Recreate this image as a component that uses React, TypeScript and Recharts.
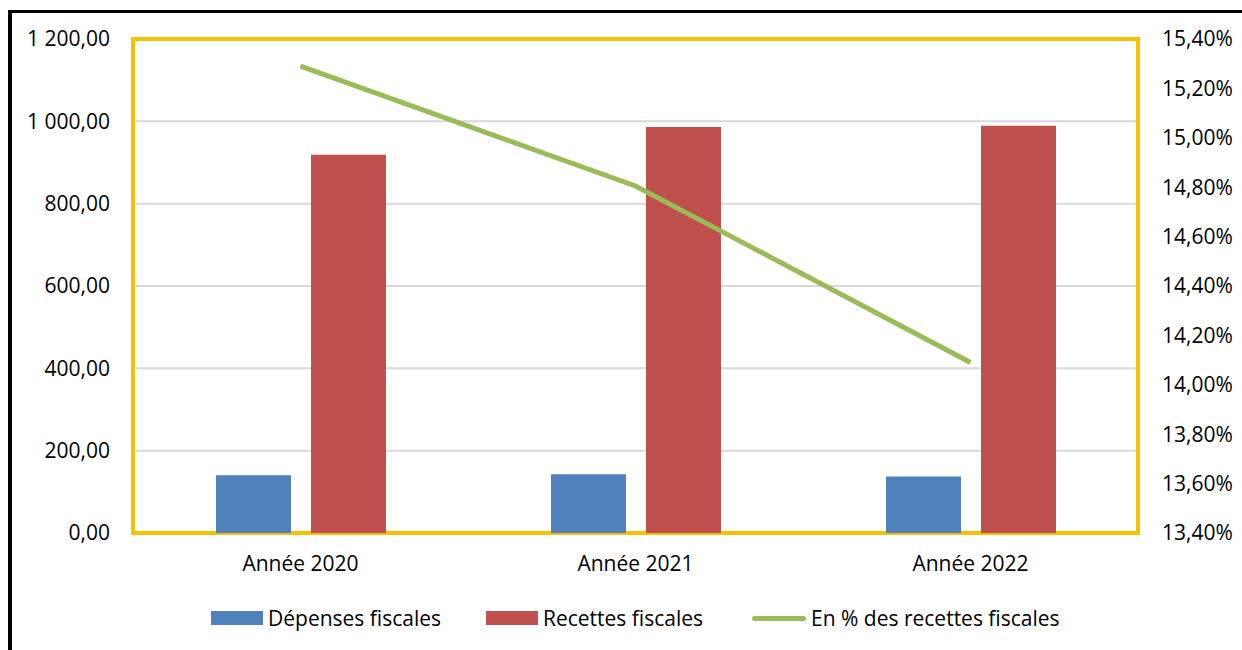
import {
  ComposedChart,
  Bar,
  Line,
  XAxis,
  YAxis,
  CartesianGrid,
  Legend,
  ReferenceArea,
} from "recharts";

const years = ["Année 2020", "Année 2021", "Année 2022"];
const depenses = [140, 143, 137];
const recettes = [919, 986, 989];
const pourcent = [15.29, 14.805, 14.09];

const leftTicks = [0, 200, 400, 600, 800, 1000, 1200];
const rightTicks = [13.4, 13.6, 13.8, 14.0, 14.2, 14.4, 14.6, 14.8, 15.0, 15.2, 15.4];

const data = years.map((name, i) => ({
  name,
  depenses: depenses[i],
  recettes: recettes[i],
  pourcent: pourcent[i],
}));

const font = "'Open Sans', sans-serif";
const fs = 21;

function fmtLeft(v: number) {
  const [int, dec] = v.toFixed(2).split(".");
  return int.replace(/\B(?=(\d{3})+(?!\d))/g, " ") + "," + dec;
}

function fmtRight(v: number) {
  return v.toFixed(2).replace(".", ",") + "%";
}

// legend items, left edge of each swatch
const legendItems = [
  { label: "Dépenses fiscales", color: "#4F81BD", left: 211, kind: "bar" },
  { label: "Recettes fiscales", color: "#C0504D", left: 486, kind: "bar" },
  { label: "En % des recettes fiscales", color: "#9BBB59", left: 752, kind: "line" },
];

function ChartLegend() {
  return (
    <div style={{ position: "relative", width: 1242, height: 30 }}>
      {legendItems.map((it) => (
        <div
          key={it.label}
          style={{
            position: "absolute",
            left: it.left,
            top: 0,
            height: 30,
            display: "flex",
            alignItems: "center",
          }}
        >
          {it.kind === "bar" ? (
            <div style={{ width: 52, height: 14, background: it.color }} />
          ) : (
            <div style={{ width: 54, height: 5, borderRadius: 3, background: it.color }} />
          )}
          <span
            style={{
              fontFamily: font,
              fontSize: fs,
              color: "#000",
              marginLeft: 5,
              whiteSpace: "nowrap",
            }}
          >
            {it.label}
          </span>
        </div>
      ))}
    </div>
  );
}

export default function App() {
  return (
    <div
      style={{
        position: "fixed",
        left: 0,
        top: 0,
        width: 1242,
        height: 650,
        background: "#fff",
        overflow: "hidden",
      }}
    >
      <div
        style={{
          position: "absolute",
          left: 8,
          top: 10,
          width: 1250,
          height: 700,
          borderLeft: "4px solid #000",
          borderTop: "3px solid #000",
        }}
      />
      <ComposedChart
        width={1242}
        height={650}
        data={data}
        margin={{ top: 39, right: 0, bottom: 17, left: 0 }}
        barGap={20}
        style={{ fontFamily: font }}
      >
        <CartesianGrid vertical={false} stroke="#d9d9d9" strokeWidth={2} yAxisId="left" />
        <XAxis
          dataKey="name"
          height={70}
          tickSize={0}
          tickMargin={23}
          axisLine={false}
          tick={{ fill: "#000", fontSize: fs, fontFamily: font }}
        />
        <YAxis
          yAxisId="left"
          width={133}
          domain={[0, 1200]}
          ticks={leftTicks}
          tickFormatter={fmtLeft}
          tickSize={0}
          tickMargin={23}
          axisLine={false}
          tick={{ fill: "#000", fontSize: fs, fontFamily: font }}
        />
        <YAxis
          yAxisId="right"
          orientation="right"
          width={104}
          domain={[13.4, 15.4]}
          ticks={rightTicks}
          tickFormatter={fmtRight}
          tickSize={0}
          tickMargin={24}
          axisLine={false}
          tick={{ fill: "#000", fontSize: fs, fontFamily: font }}
        />
        <ReferenceArea
          yAxisId="left"
          y1={0}
          y2={1200}
          fill="none"
          stroke="#F5C100"
          strokeWidth={4}
          ifOverflow="visible"
        />
        <Bar
          yAxisId="left"
          dataKey="depenses"
          fill="#4F81BD"
          barSize={75}
          isAnimationActive={false}
        />
        <Bar
          yAxisId="left"
          dataKey="recettes"
          fill="#C0504D"
          barSize={75}
          isAnimationActive={false}
        />
        <Line
          yAxisId="right"
          dataKey="pourcent"
          type="linear"
          stroke="#9BBB59"
          strokeWidth={5}
          dot={false}
          activeDot={false}
          isAnimationActive={false}
        />
        <Legend
          verticalAlign="bottom"
          height={30}
          width={1242}
          wrapperStyle={{ left: 0 }}
          content={() => <ChartLegend />}
        />
      </ComposedChart>
    </div>
  );
}
